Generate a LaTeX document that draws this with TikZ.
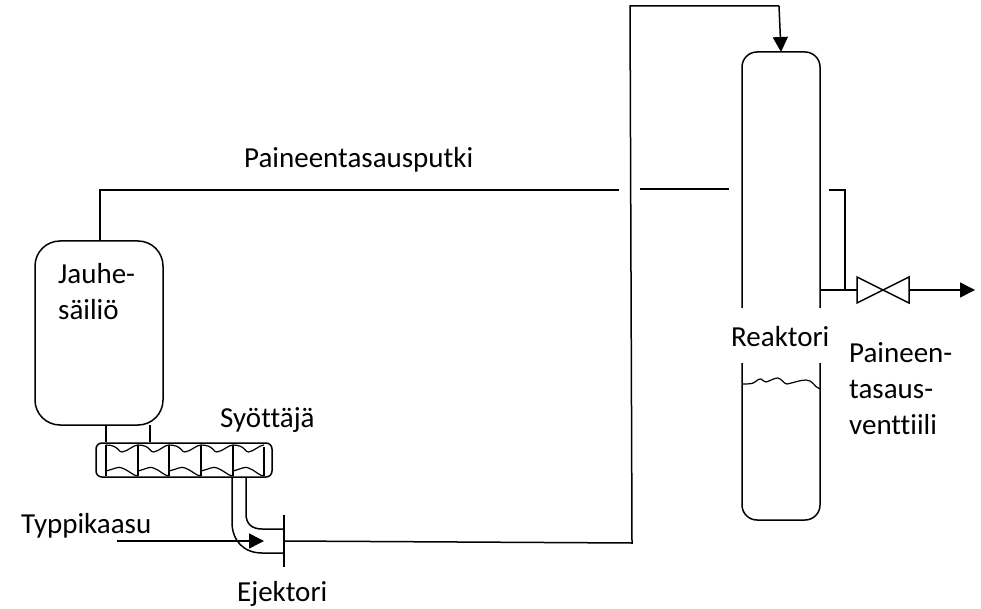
\documentclass[tikz,border=0pt]{standalone}
\usepackage{fontspec}
\setmainfont[Ligatures=CommonOff]{Carlito}
\usetikzlibrary{arrows.meta, positioning, calc}
\tikzset{
  pipe/.style={draw=black, line width=1.5pt},
  thinpipe/.style={draw=black, line width=1.2pt},
  flow/.style={pipe, -{Triangle[length=15pt, width=15pt]}},
  vessel/.style={draw=black, line width=1.5pt, rounded corners=25pt, inner sep=0pt},
  feederbox/.style={draw=black, line width=1.5pt, rounded corners=6pt, inner sep=0pt},
  label/.style={font=\fontsize{29}{36}\selectfont, inner sep=0pt, align=left}
}

\begin{document}
\begin{tikzpicture}[x=1pt, y=-1pt]
  \useasboundingbox (0,0) rectangle (981,609);

  \node[vessel, minimum width=128pt, minimum height=184pt] (tank) at (99,333) {};
  \node[feederbox, minimum width=176pt, minimum height=34pt] (feeder) at (184,460) {};
  \node[label, anchor=west] (tanklabel) at (58,292) {Jauhe-\\säiliö};
  \node[label, anchor=west] (feederlabel) at (220,420) {Syöttäjä};
  \node[label, anchor=west] (gaslabel) at (21,526) {Typpikaasu};
  \node[label, anchor=west] (ejectorlabel) at (237,594) {Ejektori};
  \node[label, anchor=west] (linelabel) at (244,160) {Paineentasausputki};
  \node[label, anchor=west] (reactorlabel) at (731,337) {Reaktori};
  \node[label, anchor=west] (valvelabel) at (849,389) {Paineen-\\tasaus-\\venttiili};

  \coordinate (legL) at (106,425);
  \coordinate (legR) at (150,425);
  \draw[pipe] (legL) -- (legL |- feeder.north);
  \draw[pipe] (legR) -- (legR |- feeder.north);

  \foreach \xa/\xb in {106/138, 138/169, 169/201, 201/233, 233/264} {
    \draw[thinpipe] (\xa,445) .. controls ($(\xa,445)!0.4!(\xb,445)$) and ($(\xa,453)!0.4!(\xb,453)$) .. ($(\xa,452)!0.5!(\xb,452)$)
      .. controls ($(\xa,451)!0.7!(\xb,451)$) and ($(\xa,445)!0.85!(\xb,445)$) .. (\xb,445);
    \draw[thinpipe] (\xa,471) .. controls ($(\xa,469)!0.25!(\xb,469)$) and ($(\xa,466)!0.4!(\xb,466)$) .. ($(\xa,468)!0.5!(\xb,468)$)
      .. controls ($(\xa,470)!0.7!(\xb,470)$) and ($(\xa,476)!0.85!(\xb,476)$) .. (\xb,476);
    \draw[thinpipe] (\xa,445) -- (\xa,476);
  }
  \draw[thinpipe] (264,447) -- (264,476);

  \coordinate (ejectorT) at (284,515);
  \coordinate (ejectorB) at (284,567);
  \coordinate (ejectorM) at (284,541);
  \coordinate (gasIn) at (117,541);
  \coordinate (gasTip) at (264,541);
  \draw[pipe] (ejectorT) -- (ejectorB);
  \draw[pipe] (232,477) -- (232,522) .. controls (232,541) and (244,553) .. (262,553) -- (284,553);
  \draw[pipe] (246,477) -- (246,514) .. controls (246,523) and (251,529) .. (262,529) -- (284,529);
  \draw[flow] (gasIn) -- (gasTip);

  \coordinate (riserB) at (632,543);
  \coordinate (riserT) at (630,6);
  \coordinate (feedT) at (779,6);
  \coordinate (feedIn) at (781,52);
  \draw[pipe] (ejectorM) -- (riserB) -- (riserT) -- (feedT);
  \draw[flow] (feedT) -- (feedIn);

  \draw[pipe, rounded corners=15pt] (742,308) -- (742,52) -- (820,52) -- (820,308);
  \draw[pipe, rounded corners=15pt] (742,363) -- (742,520) -- (820,520) -- (820,363);
  \draw[thinpipe] (742,384) .. controls (749,384) and (752,384) .. (755,382)
    .. controls (758,380) and (759,378) .. (761,379) .. controls (763,380) and (764,382) .. (766,382)
    .. controls (770,381) and (774,378) .. (778,378) .. controls (782,379) and (784,384) .. (787,384)
    .. controls (793,383) and (800,380) .. (806,380) .. controls (813,380) and (814,387) .. (820,389);

  \draw[pipe] (100,241) |- (619,190);
  \draw[pipe] (640,189) -- (729,189);
  \draw[pipe] (829,190) -| (845,290);

  \coordinate (valveL) at (857,290);
  \coordinate (valveR) at (909,290);
  \draw[pipe] (820,290) -- (valveL);
  \draw[pipe, line join=miter] (valveL |- 0,277) -- (valveR |- 0,303) -- (valveR |- 0,277) -- (valveL |- 0,303) -- cycle;
  \coordinate (ventEnd) at (975,290);
  \draw[flow] (valveR) -- (ventEnd);
\end{tikzpicture}
\end{document}
